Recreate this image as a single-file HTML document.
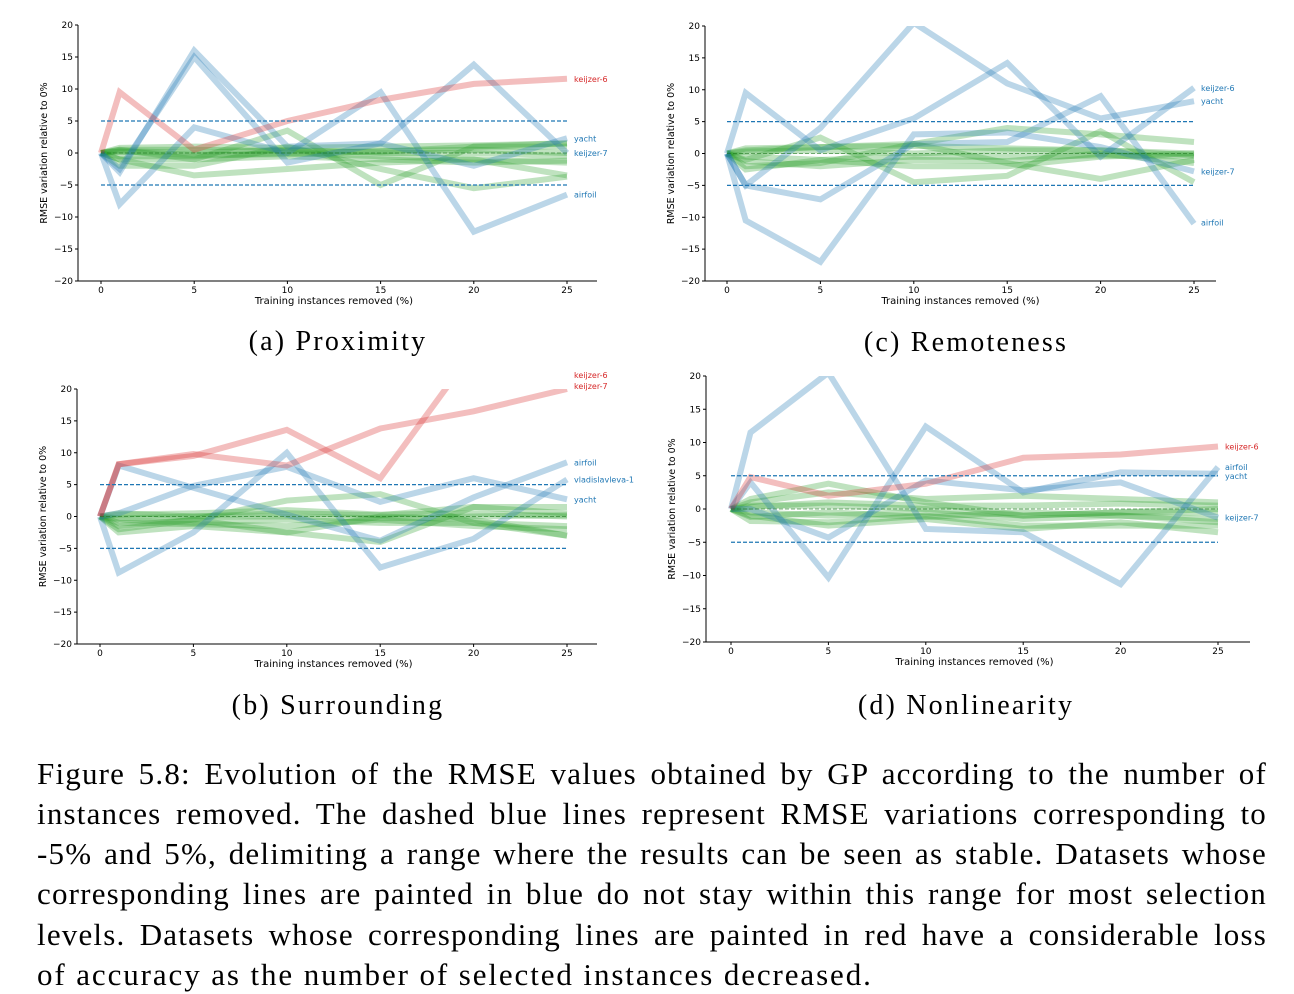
<!DOCTYPE html>
<html><head><meta charset="utf-8"><style>
body{margin:0;background:#fff;width:1294px;height:994px;overflow:hidden;position:relative;font-family:"Liberation Serif",serif}
svg{position:absolute;left:0;top:0}
.cap{position:absolute;left:37px;width:1230px;font-size:31px;line-height:31px;text-align:justify;text-align-last:justify;white-space:nowrap;color:#000;letter-spacing:1.2px}
.sub{position:absolute;font-size:28px;transform:translateX(-50%);white-space:nowrap;letter-spacing:2.2px}
</style></head><body>
<svg id="fig" width="1294" height="740"></svg>
<div class="sub" style="left:338px;top:326px">(a) Proximity</div>
<div class="sub" style="left:966px;top:327px">(c) Remoteness</div>
<div class="sub" style="left:338px;top:690px">(b) Surrounding</div>
<div class="sub" style="left:966px;top:690px">(d) Nonlinearity</div>
<div>
<div class="cap" style="top:758px">Figure 5.8: Evolution of the RMSE values obtained by GP according to the number of</div>
<div class="cap" style="top:798px">instances removed. The dashed blue lines represent RMSE variations corresponding to</div>
<div class="cap" style="top:838px">-5% and 5%, delimiting a range where the results can be seen as stable. Datasets whose</div>
<div class="cap" style="top:878px">corresponding lines are painted in blue do not stay within this range for most selection</div>
<div class="cap" style="top:919px">levels. Datasets whose corresponding lines are painted in red have a considerable loss</div>
<div class="cap" style="top:959px;text-align-last:left;letter-spacing:1.9px">of accuracy as the number of selected instances decreased.</div>
</div>
<script>
const xs=[0,1,5,10,15,20,25];
const xTicks=[0,5,10,15,20,25];
const yTicks=[20,15,10,5,0,-5,-10,-15,-20];
// Panel A
const aRed=[[0,9.5,0.5,5,8.3,10.8,11.6]];
const aBlue=[[0,-3,16,1,1.5,-2,2.3],[0,-2.5,15,-1.5,1.5,13.8,0],[0,-8,4,0,9.5,-12.3,-6.5]];
const aGreen=[[0,-1,-3.5,-2.5,-1.5,-1,-3.5],[0,0.5,-1,3.5,-5,1,1.5],[0,-2,-2,1,-2.5,-5.5,-3.7],[0,0.5,0.5,0.3,0.2,1,1],[0,-0.5,-0.5,0,-0.5,-1,-1.5],[0,0.3,0,0.5,0,0,-0.5],[0,-1,-1,-0.5,-1,-1.5,-1.2],[0,0.8,1,0.8,1,1.2,1.5],[0,0.2,-0.3,-0.2,0.3,0.5,0]];
const aLabels=["keijzer-6","yacht","keijzer-7","airfoil"];
const aLabelY=[11.6,2.3,0,-6.5];
const aLabelC=["r","b","b","b"];
// Panel C
const cRed=[];
const cBlue=[[0,9.5,0.5,5.5,14.2,-0.5,10.3],[0,-5,4,20.5,11,5.5,8.2],[0,-10.5,-17,3,3.3,1,-2.8],[0,-5,-7.2,1.5,1.8,9,-11]];
const cGreen=[[0,-2,-1.5,1.5,-1.5,-4,-1],[0,-1,2.5,-4.5,-3.5,3.5,-4.5],[0,0.5,1,1.5,4,3,1.8],[0,-2.5,-1,-2,-2,-0.5,0],[0,0.3,0.5,0,0.5,0.5,0],[0,-0.5,-1,-0.5,-0.5,-0.3,-0.5],[0,0.8,1,1.2,0.8,0.5,-0.3],[0,-1.2,-2,-1,-1.2,0,-1.5]];
const cLabels=["keijzer-6","yacht","keijzer-7","airfoil"];
const cLabelY=[10.3,8.2,-2.8,-10.8];
const cLabelC=["b","b","b","b"];
// Panel B
const bRed=[[0,8.2,9.5,13.6,6,26,30],[0,8.2,9.8,8,13.8,16.5,20]];
const bBlue=[[0,0.5,4.8,7.8,2.3,6,2.7],[0,-8.8,-2.5,10,-8,-3.5,5.8],[0,8,4.5,0.3,-3.8,3,8.5]];
const bGreen=[[0,-1.5,-0.5,2.5,3.5,-1,-3],[0,-2.5,-1.5,-2.5,-4,1.5,1.5],[0,-2,-0.5,-2.5,0,-0.5,-3],[0,0.3,0.5,1,0.3,0.5,0],[0,-0.5,-1,-0.5,-1,-1,-1.5],[0,-1,-1.2,-1.5,-0.5,-1.5,-2],[0,0.5,0,0.5,0.2,1.5,0.5],[0,-0.3,0,0,-0.3,0,0.2]];
const bLabels=["keijzer-6","keijzer-7","airfoil","vladislavleva-1","yacht"];
const bLabelY=[22.2,20.5,8.5,5.8,2.7];
const bLabelC=["r","r","b","b","b"];
// Panel D
const dRed=[[0,4.8,2,3.8,7.7,8.2,9.4]];
const dBlue=[[0,11.5,20.5,-3,-3.5,-11.3,6.3],[0,4,-10.3,12.4,2.5,5.5,5.3],[0,0,-4.3,4.3,2.8,4,-1.3]];
const dGreen=[[0,1.5,3.8,1,-1,-0.5,-0.5],[0,-1,-2.5,-1.5,-3,-2,-3.5],[0,-1.8,-2,-1,-2.5,-2.5,-2.5],[0,1,2.5,1.5,2,1.5,1],[0,0.5,0.5,0,-1,-0.5,0],[0,-0.5,-1,-0.5,-1.5,-1,-1.5],[0,0.3,1,0.5,0.5,0.8,0.5],[0,-1.2,-0.5,-1.2,-0.5,-1,-2]];
const dLabels=["keijzer-6","airfoil","yacht","keijzer-7"];
const dLabelY=[9.4,6.3,5,-1.3];
const dLabelC=["r","b","b","b"];

const NS="http://www.w3.org/2000/svg";
const svg=document.getElementById('fig');
function mk(tag,attrs,parent){const e=document.createElementNS(NS,tag);for(const k in attrs)e.setAttribute(k,attrs[k]);(parent||svg).appendChild(e);return e;}
let clipN=0;
function panel(g,red,blue,green,labels,labelY,labelC,name){
  const sx=v=>g.x0+(g.x25-g.x0)*v/25;
  const sy=v=>g.y0-(g.y0-g.yTop)*v/20;
  const grp=mk('g',{});
  
  
  const id='clip'+(clipN++);
  const cp=mk('clipPath',{id:id},grp);
  mk('rect',{x:g.spine,y:sy(20),width:g.right-g.spine,height:sy(-20)-sy(20)},cp);
  const lines=mk('g',{'clip-path':'url(#'+id+')'},grp);
  const draw=(arr,col,kind)=>arr.forEach((s,i)=>{
    const p=mk('polyline',{points:s.map((v,j)=>sx(xs[j])+','+sy(v)).join(' '),fill:'none',stroke:col,'stroke-width':6,'stroke-linejoin':'miter'},lines);
    
    
  });
  draw(green,'rgba(44,160,44,0.3)','green');
  draw(blue,'rgba(31,119,180,0.3)','blue');
  draw(red,'rgba(214,39,40,0.3)','red');
  [5,-5].forEach(v=>{const l=mk('line',{x1:sx(0),x2:sx(25),y1:sy(v),y2:sy(v),stroke:'#1f77b4','stroke-width':1.2,'stroke-dasharray':'4,2'},grp);
    
    });
  const z=mk('line',{x1:sx(0),x2:sx(25),y1:sy(0),y2:sy(0),stroke:'rgba(30,120,30,0.6)','stroke-width':1,'stroke-dasharray':'4,2'},grp);
  
  
  const ax=mk('g',{stroke:'#000','stroke-width':1},grp);
  
  
  mk('line',{x1:g.spine,x2:g.spine,y1:sy(20),y2:sy(-20)},ax);
  mk('line',{x1:g.spine,x2:g.right,y1:sy(-20),y2:sy(-20)},ax);
  yTicks.forEach(v=>{mk('line',{x1:g.spine-3,x2:g.spine,y1:sy(v),y2:sy(v)},ax);
    const t=mk('text',{x:g.spine-5,y:sy(v)+3,'font-size':9,'text-anchor':'end','font-family':'DejaVu Sans, sans-serif',fill:'#000'},grp);
    t.textContent=v<0?'\u2212'+(-v):v;
    
    });
  xTicks.forEach(v=>{mk('line',{x1:sx(v),x2:sx(v),y1:sy(-20),y2:sy(-20)+3},ax);
    const t=mk('text',{x:sx(v),y:sy(-20)+12,'font-size':9,'text-anchor':'middle','font-family':'DejaVu Sans, sans-serif',fill:'#000'},grp);
    t.textContent=v;
    
    });
  const xl=mk('text',{x:(sx(0)+sx(25))/2,y:sy(-20)+23,'font-size':10,'text-anchor':'middle','font-family':'DejaVu Sans, sans-serif',fill:'#000'},grp);
  xl.textContent='Training instances removed (%)';
  
  
  const yl=mk('text',{x:0,y:0,'font-size':9.5,'text-anchor':'middle','font-family':'DejaVu Sans, sans-serif',fill:'#000',transform:'translate('+(g.spine-31)+','+sy(0)+') rotate(-90)'},grp);
  yl.textContent='RMSE variation relative to 0%';
  
  
  labels.forEach((s,i)=>{const t=mk('text',{x:sx(25)+7,y:sy(labelY[i])+3,'font-size':8,'font-family':'DejaVu Sans, sans-serif',fill:labelC[i]=='r'?'#d62728':'#1f77b4'},grp);
    t.textContent=s;
    
    });
}
panel({x0:101,x25:567,spine:78,right:597,yTop:25,y0:153},aRed,aBlue,aGreen,aLabels,aLabelY,aLabelC,'chart-proximity');
panel({x0:727,x25:1194,spine:705,right:1216,yTop:26,y0:153.5},cRed,cBlue,cGreen,cLabels,cLabelY,cLabelC,'chart-remoteness');
panel({x0:100,x25:567,spine:77,right:597,yTop:389,y0:516.5},bRed,bBlue,bGreen,bLabels,bLabelY,bLabelC,'chart-surrounding');
panel({x0:731,x25:1218,spine:706,right:1250,yTop:376,y0:509},dRed,dBlue,dGreen,dLabels,dLabelY,dLabelC,'chart-nonlinearity');
</script>
</body></html>
